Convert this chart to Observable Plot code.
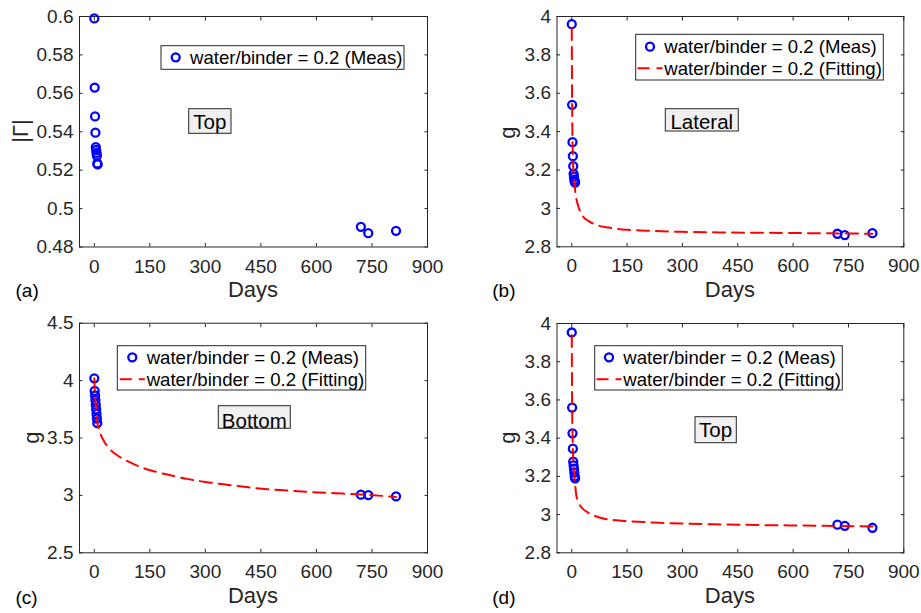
<!DOCTYPE html>
<html><head><meta charset="utf-8">
<script src="https://cdn.jsdelivr.net/npm/d3@7"></script>
<script src="https://cdn.jsdelivr.net/npm/@observablehq/plot@0.6"></script>
<style>
body{margin:0;background:#fff;}
#wrap{position:relative;width:921px;height:613px;overflow:hidden;font-family:"Liberation Sans",Arial,Helvetica,sans-serif;}
#wrap svg{position:absolute;overflow:visible;}
</style></head><body><div id="wrap"></div>
<script>
// ---------- data ----------
const xTicks = [0, 150, 300, 450, 600, 750, 900];

const measDaysA = [0, 1, 2, 3, 4, 5, 6, 7, 8, 9, 720, 740, 815];
const measA = [0.599, 0.563, 0.548, 0.5395, 0.532, 0.5305, 0.529, 0.5275, 0.5235, 0.523, 0.4905, 0.4872, 0.4884];
const yTicksA = [0.48, 0.5, 0.52, 0.54, 0.56, 0.58, 0.6];

const measDaysB = [0, 1, 2, 3, 4, 5, 6, 7, 8, 9, 720, 740, 815];
const measB = [3.96, 3.54, 3.345, 3.272, 3.22, 3.18, 3.165, 3.15, 3.14, 3.135, 2.868, 2.861, 2.871];
const fitDaysB = [0, 1, 2, 3, 4, 5, 6, 7, 8, 9, 10, 12, 15, 20, 30, 45, 70, 100, 150, 200, 300, 400, 500, 600, 700, 815];
const fitB = [3.94, 3.55, 3.36, 3.27, 3.215, 3.18, 3.155, 3.135, 3.115, 3.097, 3.08, 3.055, 3.03, 2.998, 2.96, 2.935, 2.912, 2.900, 2.889, 2.884, 2.878, 2.875, 2.873, 2.872, 2.870, 2.868];
const yTicksB = [2.8, 3, 3.2, 3.4, 3.6, 3.8, 4];

const measDaysC = [0, 1, 2, 3, 4, 5, 6, 7, 8, 720, 740, 815];
const measC = [4.02, 3.91, 3.87, 3.83, 3.79, 3.75, 3.71, 3.67, 3.63, 3.006, 3.003, 2.992];
const fitDaysC = [0, 1, 2, 3, 4, 5, 6, 7, 8, 10, 15, 25, 40, 56, 80, 105, 130, 160, 200, 250, 300, 358, 410, 467, 520, 575, 650, 720, 815];
const fitC = [4.02, 3.93, 3.88, 3.835, 3.79, 3.75, 3.71, 3.67, 3.635, 3.60, 3.55, 3.478, 3.41, 3.362, 3.315, 3.275, 3.24, 3.211, 3.18, 3.144, 3.117, 3.093, 3.073, 3.054, 3.042, 3.031, 3.019, 3.008, 2.987];
const yTicksC = [2.5, 3, 3.5, 4, 4.5];

const measDaysD = [0, 1, 2, 3, 4, 5, 6, 7, 8, 9, 720, 740, 815];
const measD = [3.953, 3.56, 3.425, 3.345, 3.277, 3.258, 3.24, 3.22, 3.2, 3.19, 2.947, 2.941, 2.931];
const fitDaysD = [0, 1, 2, 3, 4, 5, 6, 7, 8, 9, 10, 12, 15, 20, 30, 42, 60, 88, 120, 150, 240, 420, 600, 815];
const fitD = [3.94, 3.57, 3.43, 3.345, 3.285, 3.25, 3.225, 3.205, 3.185, 3.165, 3.14, 3.105, 3.08, 3.056, 3.03, 3.013, 2.995, 2.978, 2.97, 2.966, 2.957, 2.948, 2.943, 2.938];
const yTicksD = [2.8, 3, 3.2, 3.4, 3.6, 3.8, 4];

const measLabel = "water/binder = 0.2 (Meas)";
const fitLabel = "water/binder = 0.2 (Fitting)";
const xLabel = "Days";

// ---------- layout ----------
const FONT = '"Liberation Sans", Arial, Helvetica, sans-serif';
const INK = "#262626";
const BLUE = "#0000ff", RED = "#ff0000";
const DASH = "12,7";

const panels = [
  {tag:"(a)", left:0, top:0, w:460, h:300, ml:79, mr:33, mt:16, mb:53.5,
   yDom:[0.48,0.6], yTicks:yTicksA, md:measDaysA, mv:measA, fd:null, fv:null,
   yLab:"|Γ|", yLabX:27.5, yLabY:131, tagX:15.5, tagY:296.5, daysY:297,
   leg:{x:161, y:45.7, w:243, h:23.6, mx:175.7, tx:190, rows:[57.3]},
   ann:{text:"Top", x:188.7, y:108.7, w:42.3, h:24.6, ty:129.3}},
  {tag:"(b)", left:460, top:0, w:461, h:300, ml:96.5, mr:17.7, mt:16, mb:53.7,
   yDom:[2.8,4], yTicks:yTicksB, md:measDaysB, mv:measB, fd:fitDaysB, fv:fitB,
   yLab:"g", yLabX:515.4, yLabY:132.5, tagX:492.3, tagY:296.5, daysY:297,
   leg:{x:635.7, y:34.3, w:247.6, h:45.7, mx:650, tx:664.3, rows:[46.7, 68.3]},
   ann:{text:"Lateral", x:665.3, y:108.7, w:73, h:22.3, ty:129.3}},
  {tag:"(c)", left:0, top:300, w:460, h:313, ml:79, mr:33, mt:22.7, mb:60.7,
   yDom:[2.5,4.5], yTicks:yTicksC, md:measDaysC, mv:measC, fd:fitDaysC, fv:fitC,
   yLab:"g", yLabX:38.7, yLabY:437.5, tagX:15.5, tagY:603.8, daysY:603,
   leg:{x:117.3, y:345.7, w:248.4, h:44.3, mx:132.3, tx:146.7, rows:[357.3, 379.3]},
   ann:{text:"Bottom", x:218.3, y:405.7, w:72, h:22.6, ty:427.6}},
  {tag:"(d)", left:460, top:300, w:461, h:313, ml:96.5, mr:17.7, mt:23, mb:60.7,
   yDom:[2.8,4], yTicks:yTicksD, md:measDaysD, mv:measD, fd:fitDaysD, fv:fitD,
   yLab:"g", yLabX:515.4, yLabY:437.5, tagX:492.3, tagY:603.8, daysY:603,
   leg:{x:594.7, y:345.7, w:247.6, h:44.3, mx:609, tx:623.3, rows:[357.3, 379.3]},
   ann:{text:"Top", x:695, y:416.7, w:41.3, h:26, ty:437}}
];

const wrap = document.getElementById("wrap");
const fmt = d => String(+d.toFixed(3));

for (const p of panels) {
  const meas = p.md.map((d, i) => ({day: d, v: p.mv[i]}));
  const marks = [
    Plot.frame({stroke: INK, strokeWidth: 1}),
    Plot.axisX({ticks: xTicks, tickSize: 0, tickPadding: 12, label: null, fill: INK, fontSize: 19}),
    Plot.axisX({ticks: xTicks, tickSize: -3.5, text: null, label: null, stroke: INK}),
    Plot.axisX({anchor: "top", ticks: xTicks, tickSize: -3.5, text: null, label: null, stroke: INK}),
    Plot.axisY({ticks: p.yTicks, tickSize: 0, tickPadding: 6, tickFormat: fmt, label: null, fill: INK, fontSize: 19}),
    Plot.axisY({ticks: p.yTicks, tickSize: -3.5, text: null, label: null, stroke: INK}),
    Plot.axisY({anchor: "right", ticks: p.yTicks, tickSize: -3.5, text: null, label: null, stroke: INK}),
    Plot.dot(meas, {x: "day", y: "v", r: 4, stroke: BLUE, strokeWidth: 2.3, fill: "none"})
  ];
  if (p.fd) {
    const fit = p.fd.map((d, i) => ({day: d, v: p.fv[i]}));
    marks.push(Plot.line(fit, {x: "day", y: "v", stroke: RED, strokeWidth: 2, strokeDasharray: DASH, curve: "monotone-x"}));
  }
  const svg = Plot.plot({
    width: p.w, height: p.h,
    marginLeft: p.ml, marginRight: p.mr, marginTop: p.mt, marginBottom: p.mb,
    x: {domain: [-40, 900]},
    y: {domain: p.yDom},
    style: {fontFamily: FONT, fontSize: "19px", background: "transparent", overflow: "visible"},
    marks
  });
  svg.style.left = p.left + "px";
  svg.style.top = p.top + "px";
  wrap.appendChild(svg);
}

// ---------- overlay: labels, legends, annotations ----------
const ov = d3.select(wrap).append("svg")
  .attr("width", 921).attr("height", 613)
  .style("left", "0px").style("top", "0px")
  .attr("font-family", FONT);

for (const p of panels) {
  const fx0 = p.left + p.ml, fx1 = p.left + p.w - p.mr;
  ov.append("text").attr("x", (fx0 + fx1) / 2).attr("y", p.daysY)
    .attr("text-anchor", "middle").attr("font-size", 22).attr("fill", INK).text(xLabel);
  ov.append("text").attr("transform", `translate(${p.yLabX},${p.yLabY}) rotate(-90)`)
    .attr("text-anchor", "middle").attr("font-size", 22).attr("fill", INK).text(p.yLab);
  ov.append("text").attr("x", p.tagX).attr("y", p.tagY)
    .attr("font-size", 19).attr("fill", "#000").text(p.tag);
  const L = p.leg;
  ov.append("rect").attr("x", L.x).attr("y", L.y).attr("width", L.w).attr("height", L.h)
    .attr("fill", "#fff").attr("stroke", INK).attr("stroke-width", 1);
  ov.append("circle").attr("cx", L.mx).attr("cy", L.rows[0]).attr("r", 4)
    .attr("fill", "none").attr("stroke", BLUE).attr("stroke-width", 2.3);
  ov.append("text").attr("x", L.tx).attr("y", L.rows[0] + 6.5)
    .attr("font-size", 18.6).attr("fill", "#000").text(measLabel);
  if (L.rows.length > 1) {
    ov.append("line").attr("x1", L.mx - 12.5).attr("x2", L.mx + 12.5)
      .attr("y1", L.rows[1]).attr("y2", L.rows[1])
      .attr("stroke", RED).attr("stroke-width", 2).attr("stroke-dasharray", DASH);
    ov.append("text").attr("x", L.tx).attr("y", L.rows[1] + 6.5)
      .attr("font-size", 18.6).attr("fill", "#000").text(fitLabel);
  }
  const A = p.ann;
  ov.append("rect").attr("x", A.x).attr("y", A.y).attr("width", A.w).attr("height", A.h)
    .attr("fill", "#f0f0f0").attr("stroke", INK).attr("stroke-width", 1);
  ov.append("text").attr("x", A.x + A.w / 2).attr("y", A.ty)
    .attr("text-anchor", "middle").attr("font-size", 20.5).attr("fill", "#000").text(A.text);
}
</script></body></html>
